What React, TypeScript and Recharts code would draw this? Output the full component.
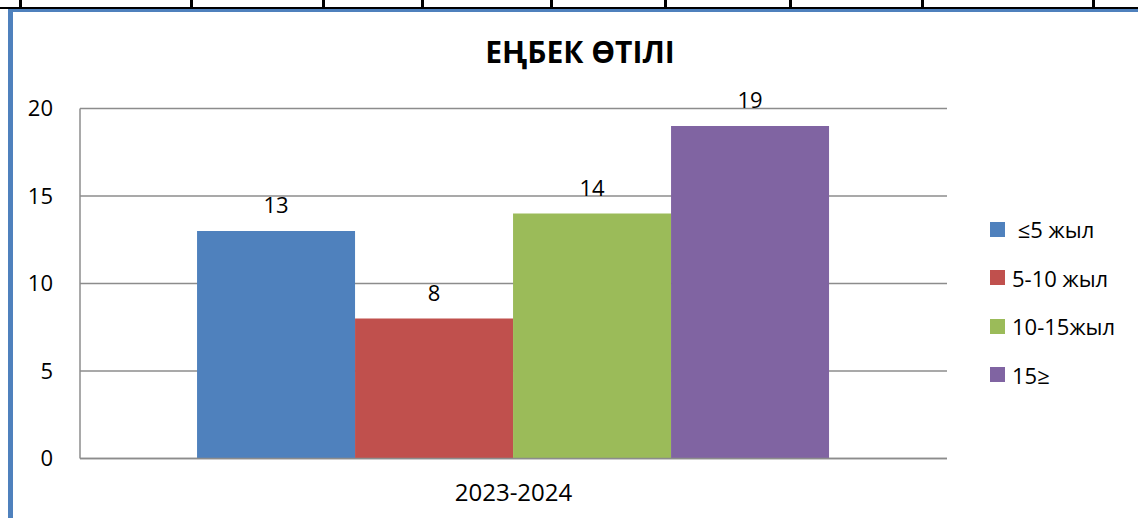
import React from 'react';
import { Bar, BarChart, CartesianGrid, LabelList, Legend, XAxis, YAxis } from 'recharts';

const categories = ['2023-2024'];
const seriesNames = [' ≤5 жыл', '5-10 жыл', '10-15жыл', '15≥'];
const seriesValues = [13, 8, 14, 19];
const seriesColors = ['#4F81BD', '#C0504D', '#9BBB59', '#8064A2'];
const yTicks = [0, 5, 10, 15, 20];
const title = 'ЕҢБЕК ӨТІЛІ';

// cell borders of the table that sits above the chart in the source page
const tableLines = [19, 190, 322, 421, 550, 664, 789, 921, 1092];

const font = '"Open Sans", sans-serif';

const data = categories.map((c) => {
  const row: Record<string, string | number> = { category: c };
  seriesValues.forEach((v, i) => {
    row['s' + i] = v;
  });
  return row;
});

const LegendBox = () => (
  <div style={{ fontFamily: font, fontSize: 22, color: '#000' }}>
    {seriesNames.map((name, i) => (
      <div key={name} style={{ display: 'flex', alignItems: 'center', height: 48.5 }}>
        <span style={{ width: 15, height: 15, background: seriesColors[i], marginRight: 7, flexShrink: 0 }} />
        <span style={{ whiteSpace: 'pre', lineHeight: '22px' }}>{name}</span>
      </div>
    ))}
  </div>
);

export default function App() {
  return (
    <div style={{ position: 'fixed', left: 0, top: 0, width: 1138, height: 518, background: '#fff', overflow: 'hidden' }}>
      {tableLines.map((x) => (
        <div key={x} style={{ position: 'absolute', left: x, top: 0, width: 3, height: 8, background: '#000' }} />
      ))}
      <div style={{ position: 'absolute', left: 0, top: 7, width: 1138, height: 2, background: '#000' }} />
      <div style={{ position: 'absolute', left: 8, top: 9, width: 1130, height: 3, background: '#4F81BD' }} />
      <div style={{ position: 'absolute', left: 8, top: 9, width: 5, height: 509, background: '#4F81BD' }} />

      <div
        style={{
          position: 'absolute',
          left: 380,
          width: 400,
          top: 32,
          textAlign: 'center',
          fontFamily: font,
          fontWeight: 700,
          fontSize: 30,
          lineHeight: '40px',
          color: '#000'
        }}
      >
        {title}
      </div>

      <BarChart
        width={1138}
        height={518}
        data={data}
        margin={{ top: 108.5, right: 191, bottom: 19.5, left: 20 }}
        barCategoryGap="13.5%"
        barGap={0}
        style={{ position: 'absolute', left: 0, top: 0 }}
      >
        <CartesianGrid vertical={false} stroke="#8C8C8C" strokeWidth={1.5} />
        <XAxis
          dataKey="category"
          height={40}
          tickLine={false}
          tickSize={0}
          tickMargin={25}
          axisLine={{ stroke: '#8C8C8C', strokeWidth: 1.5 }}
          tick={{ fill: '#000', fontSize: 24, fontFamily: font }}
        />
        <YAxis
          width={60}
          domain={[0, 20]}
          ticks={yTicks}
          tickLine={false}
          tickSize={0}
          tickMargin={27}
          axisLine={{ stroke: '#8C8C8C', strokeWidth: 1.5 }}
          tick={{ fill: '#000', fontSize: 22, fontFamily: font }}
        />
        <Legend
          layout="vertical"
          align="center"
          verticalAlign="middle"
          content={<LegendBox />}
          wrapperStyle={{ left: 990, top: 205, width: 150 }}
        />
        {seriesNames.map((name, i) => (
          <Bar key={name} dataKey={'s' + i} name={name} fill={seriesColors[i]} isAnimationActive={false}>
            <LabelList
              dataKey={'s' + i}
              position="top"
              offset={18}
              style={{ fill: '#000', fontSize: 22, fontFamily: font }}
            />
          </Bar>
        ))}
      </BarChart>
    </div>
  );
}
